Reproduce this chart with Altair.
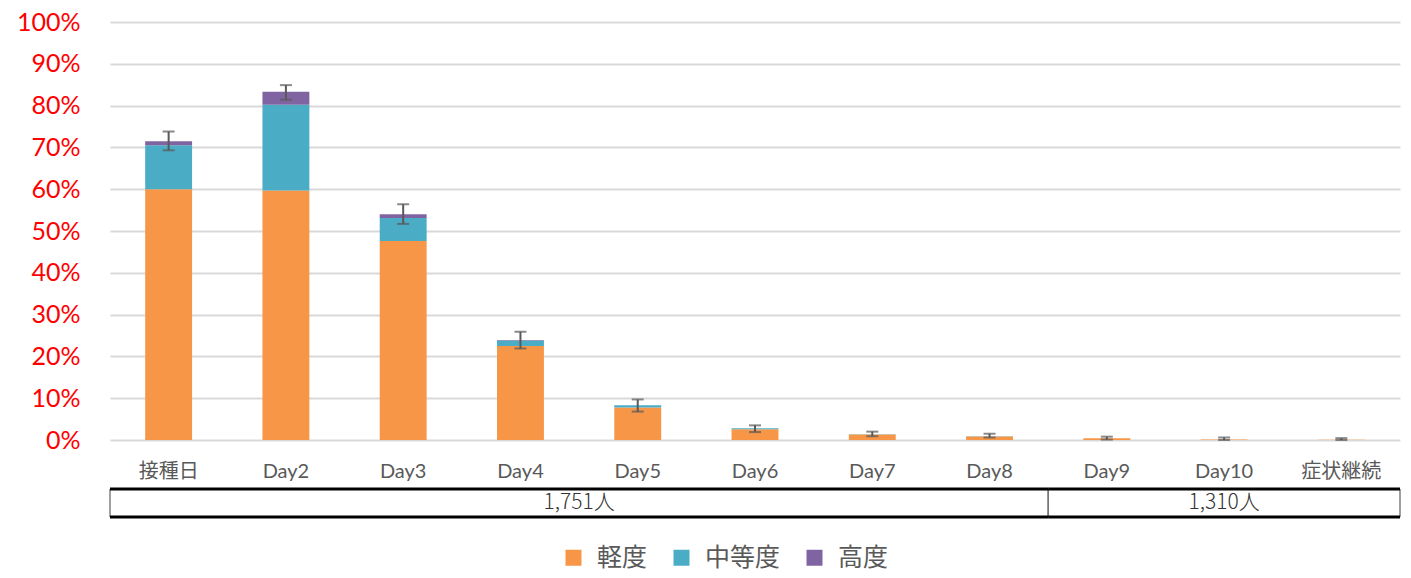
import altair as alt
import pandas as pd

categories = ["接種日", "Day2", "Day3", "Day4", "Day5", "Day6", "Day7", "Day8", "Day9", "Day10", "症状継続"]
levels = ["軽度", "中等度", "高度"]
colors = ["#F79646", "#4BACC6", "#8064A2"]

mild = [60.0, 59.7, 47.6, 22.5, 7.8, 2.6, 1.3, 0.85, 0.4, 0.1, 0.05]
moderate = [10.5, 20.5, 5.5, 1.3, 0.5, 0.2, 0.05, 0.05, 0.0, 0.0, 0.0]
severe = [1.0, 3.1, 0.9, 0.1, 0.0, 0.0, 0.0, 0.0, 0.0, 0.0, 0.0]
err_low = [69.3, 81.4, 51.7, 21.9, 6.8, 1.9, 0.9, 0.6, 0.1, 0.0, 0.0]
err_high = [73.8, 84.9, 56.4, 25.9, 9.7, 3.5, 2.0, 1.5, 0.8, 0.6, 0.45]

group_labels = ["1,751人", "1,310人"]
group_start = [0, 8]
group_end = [8, 11]

rows = []
for i, c in enumerate(categories):
    for k, (lv, vals) in enumerate(zip(levels, [mild, moderate, severe])):
        rows.append({"cat": c, "level": lv, "value": vals[i], "ord": k})
df = pd.DataFrame(rows)
err = pd.DataFrame({"cat": categories, "lo": err_low, "hi": err_high})
grp = pd.DataFrame({"label": group_labels, "start": group_start, "end": group_end})
grp["mid"] = (grp["start"] + grp["end"]) / 2

W = 1290
H = 418
ERR = "#595959"

xscale = alt.Scale(domain=categories, paddingInner=0.6, paddingOuter=0.3)
xenc = alt.X("cat:N", sort=categories, scale=xscale,
             axis=alt.Axis(title=None, labelAngle=0, labelFontSize=20, labelColor="#595959",
                           labelFont="Lato, 'Noto Sans CJK JP'", labelPadding=21,
                           ticks=False, domain=False, grid=False))

bars = alt.Chart(df).mark_bar().encode(
    x=xenc,
    y=alt.Y("value:Q", stack="zero", scale=alt.Scale(domain=[0, 100], nice=False),
            axis=alt.Axis(title=None, values=list(range(0, 101, 10)),
                          labelExpr="datum.value + '%'", labelColor="#FF0000",
                          labelFontSize=25, labelFont="Lato", labelPadding=30,
                          ticks=False, domain=False, gridColor="#D9D9D9", gridWidth=2,
                          minExtent=100, maxExtent=100)),
    color=alt.Color("level:N", sort=levels, scale=alt.Scale(domain=levels, range=colors),
                    legend=alt.Legend(title=None, orient="none", direction="horizontal",
                                      legendX=451, legendY=523, symbolType="square",
                                      symbolSize=256, symbolStrokeWidth=0,
                                      labelFontSize=25, labelColor="#595959",
                                      labelFont="Noto Sans CJK JP", labelOffset=11,
                                      columnPadding=21, labelLimit=300, padding=0)),
    order=alt.Order("ord:Q"),
)

rule = alt.Chart(err).mark_rule(color=ERR, strokeWidth=2).encode(
    x=alt.X("cat:N", sort=categories, scale=xscale), y="lo:Q", y2="hi:Q")
cap_lo = alt.Chart(err).mark_tick(color=ERR, size=12, thickness=2).encode(
    x=alt.X("cat:N", sort=categories, scale=xscale), y="lo:Q")
cap_hi = alt.Chart(err).mark_tick(color=ERR, size=12, thickness=2).encode(
    x=alt.X("cat:N", sort=categories, scale=xscale), y="hi:Q")

main = alt.layer(bars, rule, cap_lo, cap_hi).properties(width=W, height=H)

TH = 28
tx = alt.Scale(domain=[0, 11], nice=False, zero=False)
cells = alt.Chart(grp).mark_rect(fill="white", stroke="#404040", strokeWidth=1).encode(
    x=alt.X("start:Q", scale=tx, axis=None), x2="end:Q",
    y=alt.value(0), y2=alt.value(TH))
top_line = alt.Chart(grp).mark_rule(color="#000000", strokeWidth=3).encode(
    x=alt.X("start:Q", scale=tx, axis=None), x2="end:Q", y=alt.value(0))
bot_line = alt.Chart(grp).mark_rule(color="#000000", strokeWidth=3).encode(
    x=alt.X("start:Q", scale=tx, axis=None), x2="end:Q", y=alt.value(TH))
txt = alt.Chart(grp).mark_text(fontSize=21, color="#333333", font="Noto Sans CJK JP",
                               baseline="middle", fontWeight=300).encode(
    x=alt.X("mid:Q", scale=tx, axis=None), y=alt.value(TH / 2), text="label:N")
table = alt.layer(cells, top_line, bot_line, txt).properties(width=W, height=TH)

chart = alt.vconcat(main, table, spacing=6).resolve_scale(x="independent").properties(
    padding={"top": 2, "left": 2, "right": 0, "bottom": 3}
).configure(background="white").configure_view(stroke=None)

chart.save("out.html", embed_options={"renderer": "svg", "actions": False})
